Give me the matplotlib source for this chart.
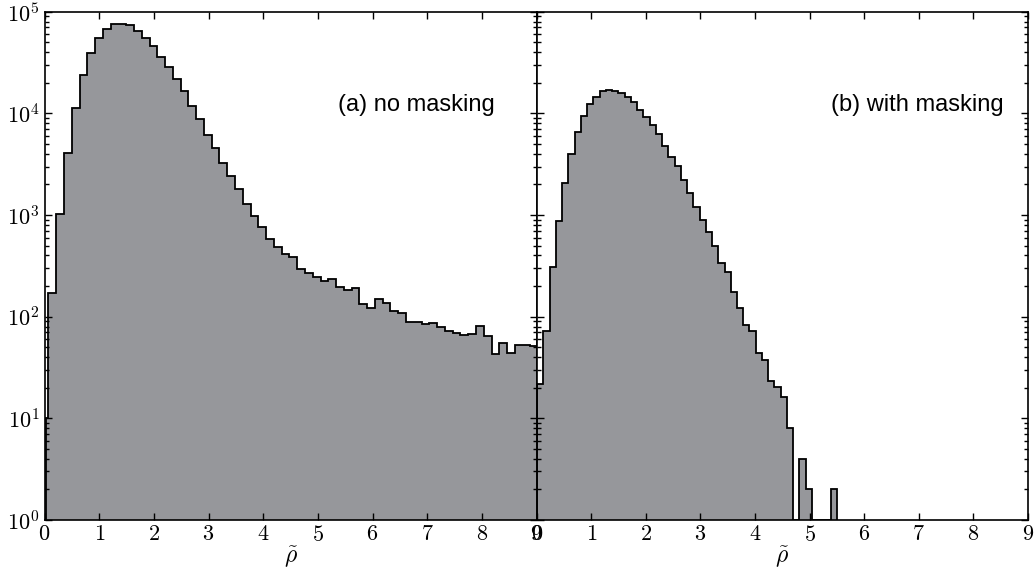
import numpy as np
import matplotlib
matplotlib.use("Agg")
import matplotlib.pyplot as plt
from matplotlib.ticker import LogLocator, NullFormatter, FixedLocator

plt.rcParams["font.family"] = "serif"
plt.rcParams["font.serif"] = ["cmr10"]
plt.rcParams["mathtext.fontset"] = "cm"
plt.rcParams["axes.formatter.use_mathtext"] = True

# panel (a): histogram of rho-tilde without masking (bin counts)
a_edges = np.concatenate([[0.035], np.linspace(0.071, 9.03, 64)])
a_counts = [10,
            171, 1020, 4045, 11350, 23800, 39500, 55400, 67500, 75000, 76100,
            73300, 65000, 55400, 45900, 36000, 28800, 21600, 16600, 11900, 8730,
            6120, 4590, 3220, 2420, 1790, 1275, 984, 757, 581, 481,
            413, 383, 297, 271, 244, 226, 233, 194, 183, 190,
            133, 121, 149, 135, 115, 108, 88, 89, 85, 87,
            80, 73, 69, 66, 68, 81, 65, 43, 55, 44,
            53, 53, 52]

# panel (b): with masking
b_edges = np.linspace(0.01, 5.50, 49)
b_counts = [21.6, 73, 306, 879, 2050, 3960, 6590, 9420, 12360, 14600,
            16600, 16960, 16700, 15960, 14380, 12830, 10780, 9270, 7680, 6220,
            4810, 3740, 3030, 2210, 1660, 1207, 893, 680, 495, 340,
            273, 176, 121, 83, 72, 44, 37.5, 23.3, 20.2, 16.3,
            8.1, 0, 4, 2, 0, 0, 0, 2]

panels = [(a_edges, a_counts, "(a) no masking", 6.80),
          (b_edges, b_counts, "(b) with masking", 6.97)]

fill_color = "#96979b"

fig = plt.figure(figsize=(10.34, 5.79), dpi=100)
ax_a = fig.add_axes([0.0431, 0.1019, 0.4758, 0.8779])
ax_b = fig.add_axes([0.5190, 0.1019, 0.4752, 0.8779])

for ax, (edges, counts, label, tx) in zip([ax_a, ax_b], panels):
    vals = np.maximum(np.array(counts, dtype=float), 1.0)
    ax.stairs(vals, edges, baseline=1, fill=True, color=fill_color, lw=0)
    ax.stairs(vals, edges, baseline=1, fill=False, color="black", lw=1.3)
    ax.set_yscale("log")
    ax.set_xlim(0, 9)
    ax.set_ylim(1, 1e5)
    ax.xaxis.set_major_locator(FixedLocator(range(10)))
    ax.yaxis.set_major_locator(LogLocator(base=10, numticks=10))
    ax.yaxis.set_minor_locator(LogLocator(base=10, subs=np.arange(2, 10), numticks=10))
    ax.yaxis.set_minor_formatter(NullFormatter())
    ax.tick_params(which="both", direction="in", top=True, right=True,
                   labelsize=16, width=1.0)
    ax.tick_params(which="major", length=5)
    ax.tick_params(which="minor", length=3)
    for s in ax.spines.values():
        s.set_linewidth(1.2)
    ax.set_xlabel(r"$\tilde{\rho}$", fontsize=17, labelpad=0)
    ax.text(tx, 10 ** 4.08, label, ha="center", va="center",
            fontsize=17, family="Liberation Sans")

ax_b.tick_params(labelleft=False)

fig.savefig("out.png", dpi=100)
